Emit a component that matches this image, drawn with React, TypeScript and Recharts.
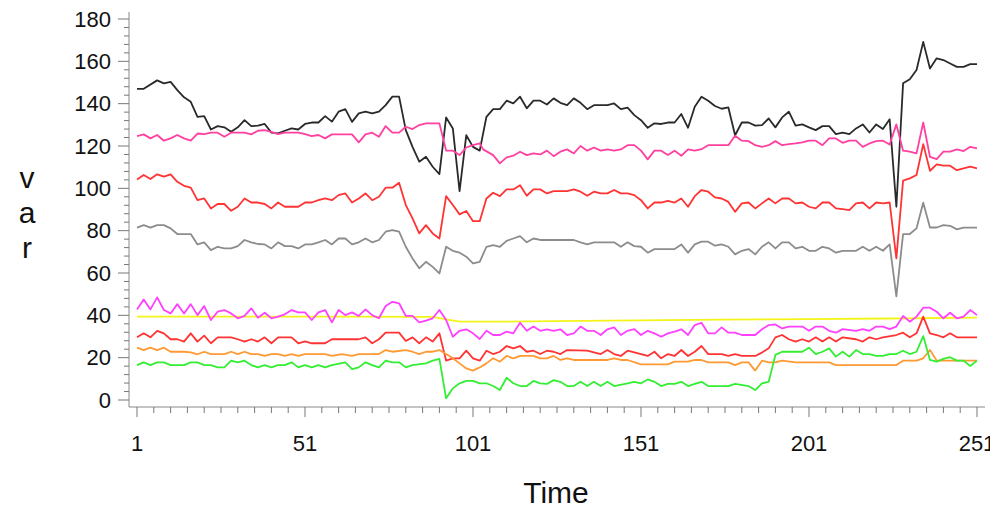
import React from 'react';
import { LineChart, Line, XAxis, YAxis } from 'recharts';

type P = [number, number];

const blackSeries: P[] = [[1,147],[3,147],[7,151],[9,149.6],[11,150.3],[13,146.4],[15,143],[17,140.9],[19,133.8],[21,134.1],[23,127.8],[25,129.4],[27,128.8],[29,126.7],[31,128.8],[33,132.2],[35,129.4],[37,129.6],[39,130.4],[41,126.3],[43,126],[45,127.2],[47,128.3],[49,127.8],[51,130.4],[53,131.1],[55,131.1],[57,134.1],[59,131.5],[61,136.2],[63,137.4],[65,131.4],[67,135.4],[69,136.2],[71,135.4],[73,136.2],[75,139.3],[77,143.3],[79,143.3],[81,127.5],[83,119.6],[85,112.6],[87,114.9],[89,110.2],[91,106.7],[93,133.5],[95,128.3],[97,98.7],[99,125.1],[101,119.6],[103,117.8],[105,133.8],[107,137.4],[109,137.4],[111,141.4],[113,140.1],[115,143.3],[117,137.8],[119,141.4],[121,141.4],[123,139.6],[125,142.5],[127,140.4],[129,139.3],[131,142.5],[133,140.4],[135,137.4],[137,139.3],[139,139.3],[141,139.3],[143,140.1],[145,137.4],[147,138.1],[149,134.6],[151,132.2],[153,128.6],[155,130.7],[157,130.4],[159,131.1],[161,131.1],[163,135.1],[165,128.6],[167,138.5],[169,143.3],[171,141.4],[173,138.9],[175,137.6],[177,138.2],[179,125.1],[181,131.1],[183,131.1],[185,129.6],[187,129.9],[189,133],[191,128.8],[193,133.5],[195,136.2],[197,129.6],[199,130.2],[201,128.8],[203,127.5],[205,129.4],[207,129.4],[209,125.6],[211,126.3],[213,125.6],[215,128.3],[217,130.2],[219,126.4],[221,130.2],[223,128],[225,132.6],[227,91.3],[229,149.6],[231,151.5],[233,155.9],[235,169.2],[237,156.6],[239,161.4],[241,160.6],[243,159],[245,157.4],[247,157.4],[249,158.7],[251,158.7]];

const pinkSeries: P[] = [[1,124.7],[3,125.5],[5,123.6],[7,125.2],[9,122.5],[11,123.6],[13,125.2],[15,123.6],[17,122.5],[19,125.9],[21,125.6],[23,126.3],[25,126.3],[27,124.4],[29,126.3],[31,126.3],[33,126.3],[35,125.5],[37,127.2],[39,127.5],[41,126.7],[43,125.6],[45,126.3],[47,126.3],[49,126.3],[51,125.6],[53,124.7],[55,125.2],[57,123.6],[59,125.5],[63,125.5],[65,125.5],[67,121.7],[69,125.5],[71,126.3],[73,124.4],[75,129.4],[77,126.3],[79,126.3],[81,129.1],[83,128],[85,129.9],[87,130.7],[89,130.7],[91,130.7],[93,117.8],[95,117.8],[97,115.7],[99,119.3],[101,120.4],[103,121.2],[104,118.4],[107,115.7],[109,111.8],[111,114.6],[113,115.4],[115,117.3],[117,115.7],[119,116.5],[121,116],[123,117.8],[125,115.2],[127,117.3],[129,118.4],[131,116.5],[133,120],[135,117.8],[137,119.3],[139,117.8],[141,118.4],[143,117.8],[145,118.4],[147,120.4],[149,120.4],[151,117.8],[153,113.7],[155,117.8],[157,117.8],[159,115.7],[161,117.8],[163,115.4],[165,118.4],[167,117.8],[169,118.5],[171,120.4],[173,120.4],[177,120.4],[179,124.8],[181,122.5],[183,122.3],[185,120.4],[187,119.6],[189,120.4],[191,122.3],[193,120.4],[195,120.9],[197,121.2],[199,121.7],[201,122.5],[203,122.5],[205,120.4],[207,123.6],[209,123.6],[211,121.5],[213,122.5],[215,122.5],[217,119.6],[219,121.2],[221,122.3],[223,122.5],[225,120.7],[227,130.2],[229,117.8],[231,117.3],[233,116.5],[235,131.1],[237,114.9],[239,113.8],[241,117.3],[243,117.3],[245,118.4],[247,117.6],[249,119.6],[251,118.9]];

const redUpperSeries: P[] = [[1,104.2],[3,106.3],[5,104.4],[7,106.6],[9,105.5],[11,106.6],[13,103.1],[15,101.2],[17,100.3],[19,94.4],[21,95.2],[23,90.5],[25,92.6],[27,92.6],[29,89.4],[31,91.3],[33,95.2],[35,93.3],[37,93.3],[39,92.6],[41,90.5],[43,93.3],[45,91.3],[49,91.3],[51,93.3],[53,93.3],[55,94.4],[57,95.2],[59,94.4],[61,96.8],[63,97.6],[65,93.3],[67,95.2],[69,97.6],[71,94.4],[73,96],[75,100.3],[77,100.3],[79,102.6],[81,92.1],[83,85.8],[85,78.7],[87,82.6],[89,78.7],[91,76.3],[93,96.3],[95,92.1],[97,87.7],[99,89.3],[101,84.5],[103,84.5],[105,95.2],[107,97.9],[109,96.3],[111,99.5],[113,99.5],[115,101.5],[117,96.5],[119,99.5],[121,99.5],[123,97.6],[125,98.7],[129,98.7],[131,99.5],[133,98.4],[135,96.5],[137,98.4],[139,97.6],[141,97.6],[143,99.2],[145,97.6],[147,97.6],[149,96.8],[151,94.4],[153,90.5],[155,93.3],[157,93.3],[159,94.1],[161,93.3],[163,95.2],[165,91.3],[167,96.3],[169,99.2],[171,98.4],[173,95.7],[175,95.2],[177,93.6],[179,88.9],[181,92.9],[183,93.3],[185,90.5],[187,92.9],[189,95.2],[191,92.9],[193,95.2],[195,95.2],[197,92.9],[199,93.3],[201,91.3],[203,90.5],[205,93.3],[207,93.3],[209,90.5],[211,90.2],[213,89.7],[215,92.9],[217,93.3],[219,90.5],[221,93.3],[223,92.9],[225,93.3],[227,66.9],[229,103.6],[231,104.7],[233,106.3],[235,120.9],[237,108.3],[239,111.3],[241,110.7],[243,110.7],[245,108.6],[247,109.4],[249,110.2],[251,109.4]];

const graySeries: P[] = [[1,81.4],[3,82.6],[5,81.4],[7,82.6],[9,82.6],[11,81.1],[13,78.4],[15,78.4],[17,78.4],[19,73.5],[21,74.5],[23,70.8],[25,72.4],[27,71.6],[29,71.6],[31,72.7],[33,75.6],[35,74.5],[37,73.7],[39,73.5],[41,71.6],[43,74.5],[45,72.7],[47,72.7],[49,71.6],[51,73.5],[53,73.5],[55,74.5],[57,75.6],[59,73.5],[61,76.3],[63,76.3],[65,73.5],[67,74.5],[69,76.3],[71,74.5],[73,75.6],[75,79.5],[77,80.3],[79,79.5],[81,72.4],[83,66.9],[85,62.2],[87,65.3],[89,62.9],[91,59.8],[93,72.4],[95,70.5],[97,69.6],[99,67.7],[101,64.5],[103,65.3],[105,72.4],[107,73.2],[109,72.4],[111,75.2],[113,76.3],[115,77.4],[117,74.5],[119,76.3],[121,75.6],[125,75.6],[131,75.6],[133,74.5],[135,73.5],[137,74.5],[143,74.5],[145,72.4],[147,74.5],[149,72.7],[151,72.4],[153,69.6],[155,71.3],[161,71.3],[163,73.5],[165,69.6],[167,73.5],[169,74.8],[171,74.8],[173,72.9],[175,73.5],[177,72.4],[179,68.8],[181,70.5],[183,71.3],[185,68.8],[187,72.4],[189,74.5],[191,71.6],[193,74.5],[195,74.5],[197,71.6],[199,72.4],[201,70.5],[203,70.5],[205,72.4],[207,71.6],[209,69.6],[211,70.5],[215,70.5],[217,72.4],[219,70.5],[221,72.4],[223,70.5],[225,73.5],[227,49],[229,78.4],[231,78.4],[233,81.1],[235,93.2],[237,81.5],[239,81.5],[241,82.6],[243,82.3],[245,80.6],[247,81.4],[251,81.4]];

const magentaSeries: P[] = [[1,42.8],[3,47.5],[5,42.8],[7,48.5],[9,42.5],[11,40.9],[13,45.3],[15,40.9],[17,45.3],[19,40.1],[21,44.4],[23,37.8],[25,41.7],[27,42.5],[29,40.9],[31,38.6],[33,39.7],[35,43.3],[37,38.9],[39,41.2],[41,38.6],[43,39.4],[45,40.5],[47,42.5],[49,41.4],[51,41.4],[53,37.8],[55,41.4],[57,42.5],[59,36.7],[61,42.5],[63,40.1],[65,41.4],[67,39.7],[69,42.8],[71,40.1],[73,38.6],[75,44.4],[77,46.4],[79,45.7],[81,39.7],[83,39.7],[85,36.7],[87,37.5],[89,38.6],[91,42.5],[93,37.8],[95,29.9],[97,32.7],[99,33.4],[101,31.5],[103,28.8],[105,32.7],[107,30.7],[109,30.7],[111,32.3],[113,31.5],[115,36.5],[117,32.7],[119,34.7],[121,32.7],[123,33.4],[125,32.7],[127,33.4],[129,30.7],[131,31.5],[133,34.7],[135,32.7],[137,32.7],[139,30.7],[141,33.4],[143,34.3],[145,30.7],[147,32.7],[149,33.5],[151,30.7],[153,32.7],[155,31.5],[157,29.9],[159,31.5],[161,32.3],[163,33.4],[165,30.7],[167,35.4],[169,36.5],[171,31.5],[173,31.5],[175,34.3],[177,31.8],[179,31.8],[181,30.7],[185,30.7],[187,33.4],[189,35.4],[191,35.7],[193,33.8],[195,34.7],[199,34.7],[201,32.7],[203,34.7],[205,34.7],[207,32.7],[209,31.8],[211,33.5],[215,32.7],[217,33.5],[219,32.7],[221,34.7],[223,34.7],[225,33.5],[227,34.7],[229,39.7],[231,37],[233,39.4],[235,43.6],[237,43.6],[239,41.7],[241,38.6],[243,41.2],[245,38.6],[247,39.4],[249,42.5],[251,40.1]];

const yellowSeries: P[] = [[1,39.4],[30,39.4],[60,39.4],[89,39.3],[93,38.1],[97,37],[110,37],[125,37.3],[150,37.6],[175,38],[200,38.2],[225,38.5],[251,38.9]];

const redLowerSeries: P[] = [[1,29.6],[3,31.5],[5,29.6],[7,32.7],[9,31.5],[11,28.7],[13,28.7],[15,27.6],[17,31.5],[19,27.6],[21,30.4],[23,26.8],[25,29.6],[29,29.6],[31,28.7],[33,27.6],[35,28.7],[37,27.6],[39,29.6],[41,26.8],[43,29.6],[47,29.6],[49,26.8],[51,27.7],[53,26.8],[57,26.8],[59,28.7],[63,28.7],[67,28.7],[69,29.6],[71,26.8],[73,28.7],[75,31.8],[79,31.8],[81,27.9],[83,29.6],[85,26.8],[87,29.6],[89,27.6],[91,31.5],[93,18.6],[95,19.7],[97,19.7],[99,23.3],[101,19.7],[103,18.6],[105,23.3],[107,21.7],[109,22.8],[111,25.5],[113,24.4],[115,25.5],[117,22.8],[119,23.3],[121,21.7],[123,23.3],[125,22.8],[127,21.7],[129,23.6],[135,23.3],[139,21.7],[141,23.6],[143,21.7],[145,20.8],[147,23.3],[151,21.7],[153,20.8],[155,22.8],[157,19.7],[159,21.7],[161,20.8],[163,23.6],[165,20.8],[167,22.8],[169,25.5],[171,21.7],[175,21.7],[177,20.8],[179,21.7],[181,20.8],[185,20.8],[187,22.4],[189,24.4],[191,29.6],[193,30.7],[195,28.7],[197,27.6],[199,28.7],[201,27.6],[203,29.6],[205,27.6],[207,29.6],[209,27.6],[211,29.6],[215,28.7],[217,27.6],[219,29.6],[221,28.7],[223,29.6],[227,30.7],[229,31.8],[231,29.6],[233,31.5],[235,39.4],[237,31.5],[239,30.7],[241,29.6],[243,31.5],[245,29.6],[251,29.6]];

const orangeSeries: P[] = [[1,24.7],[3,23.6],[5,24.7],[7,23.6],[9,24.7],[11,22.8],[15,22.8],[17,22.5],[19,21.6],[21,22.8],[23,21.7],[27,21.7],[29,22.8],[31,21.7],[33,22.8],[35,21.7],[37,21.7],[39,20.8],[41,21.7],[43,21.7],[45,20.8],[47,21.7],[49,20.8],[51,21.7],[57,21.7],[59,20.8],[62,21.7],[65,20.8],[67,21.7],[73,21.7],[75,23.6],[77,22.8],[81,23.6],[83,22.8],[85,21.7],[87,22.8],[89,22.8],[91,23.6],[93,21.7],[95,19.7],[97,17.3],[99,14.9],[101,13.9],[103,15.4],[105,17.3],[107,19.7],[109,18.1],[111,20.8],[113,19.7],[115,20.8],[119,20.8],[121,19.7],[123,19.7],[125,20.8],[127,18.9],[129,19.7],[131,18.9],[141,18.9],[143,19.7],[145,18.9],[147,18.9],[151,16.8],[159,16.8],[161,18.1],[165,18.1],[167,18.9],[169,18.9],[171,17.8],[177,17.8],[179,16.5],[181,17.8],[183,17.8],[185,13.9],[187,18.6],[189,17.8],[191,17.8],[193,18.6],[197,17.8],[207,17.8],[209,16.5],[227,16.5],[229,18.6],[233,18.6],[235,19.7],[237,23.6],[239,18.6],[251,18.6]];

const greenSeries: P[] = [[1,16.5],[3,17.8],[5,16.5],[7,17.8],[9,17.8],[11,16.5],[15,16.5],[17,17.8],[19,17.8],[21,16.5],[23,16.5],[25,15.4],[27,15.4],[29,18.6],[31,17.8],[33,18.6],[35,16.5],[37,15.4],[39,16.5],[41,15.4],[43,16.5],[45,16.5],[47,17.8],[49,15.4],[51,16.5],[53,15.4],[55,16.5],[57,15.4],[59,16.5],[63,17.8],[65,14.6],[67,15.4],[69,17.8],[71,16.5],[73,15.4],[75,18.6],[77,17.8],[79,17.8],[81,15.4],[83,16.5],[87,17.3],[89,18.6],[91,19.4],[93,0.8],[95,5.5],[97,7.9],[99,9],[101,9],[103,7.9],[105,7.9],[107,6.6],[109,4.7],[111,10.5],[113,7.9],[115,6.6],[117,6.6],[119,9],[121,7.9],[123,7.6],[125,9.4],[127,8.6],[129,6.6],[131,6.6],[133,8.6],[135,6.6],[137,8.6],[139,6.6],[141,8.6],[143,6.6],[147,7.9],[149,8.6],[151,7.9],[153,9.7],[155,8.6],[157,6.6],[159,7.6],[161,7.6],[163,8.6],[165,6.6],[167,7.6],[169,8.6],[171,6.6],[177,6.6],[179,7.6],[183,6.6],[185,4.7],[187,7.9],[189,8.6],[191,21.3],[193,22.8],[199,22.8],[201,24.7],[203,21.7],[205,22.8],[207,24.4],[209,20.5],[211,22.8],[213,20.5],[215,23.6],[217,21.7],[219,21.7],[221,20.8],[223,20.8],[225,21.7],[227,21.7],[229,23.3],[231,21.7],[233,22.8],[235,30.2],[237,18.9],[239,18.1],[241,19.4],[243,20.2],[245,18.6],[247,18.6],[249,16.1],[251,18.6]];

const yMajorTicks = [0, 20, 40, 60, 80, 100, 120, 140, 160, 180];
const xMajorTicks = [1, 51, 101, 151, 201, 251];
const yLetters = ['v', 'a', 'r'];
const xTitle = 'Time';

const yTicks: number[] = [];
for (let v = 0; v <= 180; v += 4) yTicks.push(v);
const xTicks: number[] = [];
for (let v = 1; v <= 251; v += 5) xTicks.push(v);

const series = [
  { key: 'black', color: '#2a2a2a', pts: blackSeries },
  { key: 'pink', color: '#ff40a0', pts: pinkSeries },
  { key: 'redUpper', color: '#ff3333', pts: redUpperSeries },
  { key: 'gray', color: '#8c8c8c', pts: graySeries },
  { key: 'yellow', color: '#f4f41a', pts: yellowSeries },
  { key: 'magenta', color: '#ff40ff', pts: magentaSeries },
  { key: 'redLower', color: '#ff3333', pts: redLowerSeries },
  { key: 'orange', color: '#ff9933', pts: orangeSeries },
  { key: 'green', color: '#33ee33', pts: greenSeries },
];

const FONT = '"Liberation Sans", Arial, Helvetica, sans-serif';

const YTick = (props: any) => {
  const { x, y, payload } = props;
  const v = payload.value;
  const major = yMajorTicks.includes(v);
  return (
    <g>
      <line x1={x - (major ? 11 : 5)} y1={y} x2={x} y2={y} stroke="#777" strokeWidth={1} />
      {major && (
        <text x={x - 18} y={y} textAnchor="end" dominantBaseline="central" fontSize={22} fill="#111" fontFamily={FONT}>
          {v}
        </text>
      )}
    </g>
  );
};

const XTick = (props: any) => {
  const { x, y, payload } = props;
  const v = payload.value;
  const major = xMajorTicks.includes(v);
  return (
    <g>
      <line x1={x} y1={y} x2={x} y2={y + (major ? 10 : 6)} stroke="#777" strokeWidth={1} />
      {major && (
        <text x={x} y={y + 36} textAnchor="middle" dominantBaseline="central" fontSize={22} fill="#111" fontFamily={FONT}>
          {v}
        </text>
      )}
    </g>
  );
};

export default function App() {
  return (
    <div style={{ position: 'relative', width: 990, height: 500 }}>
      <LineChart width={990} height={500} margin={{ top: 4, right: 13, left: 0, bottom: 0 }}>
        <XAxis
          type="number"
          dataKey="t"
          domain={[1, 251]}
          ticks={xTicks}
          interval={0}
          tickSize={0}
          tickMargin={0}
          tickLine={false}
          axisLine={{ stroke: '#888' }}
          tick={(p: any) => <XTick {...p} />}
          height={101}
          padding={{ left: 8, right: 8 }}
        />
        <YAxis
          type="number"
          domain={[0, 180]}
          ticks={yTicks}
          interval={0}
          tickSize={0}
          tickMargin={0}
          tickLine={false}
          axisLine={{ stroke: '#888' }}
          tick={(p: any) => <YTick {...p} />}
          width={121}
          padding={{ top: 7, bottom: 7 }}
        />
        {series.map((s) => (
          <Line
            key={s.key}
            data={s.pts.map(([t, v]) => ({ t, v }))}
            dataKey="v"
            type="linear"
            stroke={s.color}
            strokeWidth={1.8}
            strokeLinejoin="round"
            dot={false}
            activeDot={false}
            isAnimationActive={false}
          />
        ))}
      </LineChart>
      <svg width={990} height={500} style={{ position: 'absolute', left: 0, top: 0, pointerEvents: 'none' }}>
        {yLetters.map((l, i) => (
          <text key={l} x={19} y={169 + i * 35} textAnchor="middle" dominantBaseline="central" fontSize={30} fill="#111" fontFamily={FONT}>
            {l}
          </text>
        ))}
        <text x={548} y={484} textAnchor="middle" dominantBaseline="central" fontSize={30} fill="#111" fontFamily={FONT}>
          {xTitle}
        </text>
      </svg>
    </div>
  );
}
